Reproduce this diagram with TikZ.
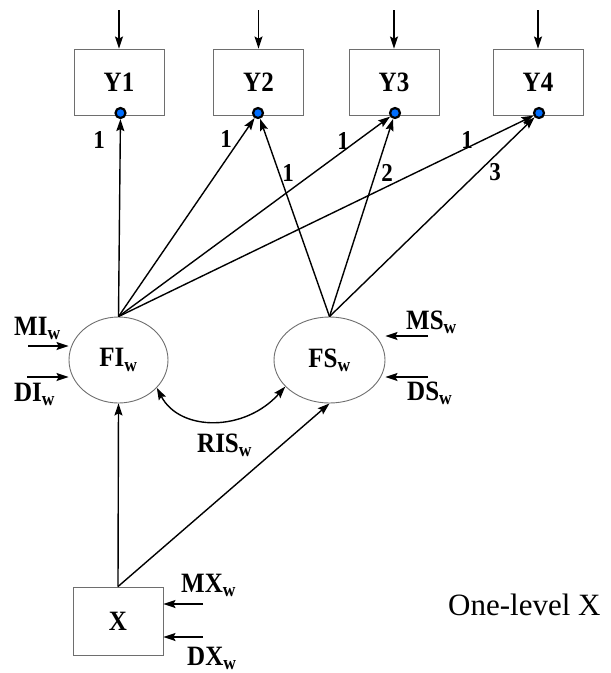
\documentclass[tikz,border=0pt]{standalone}
\usepackage{fontspec}
\usepackage{graphicx}
\setmainfont{Liberation Serif}
\usetikzlibrary{arrows.meta,shapes.geometric}
\definecolor{dotblue}{RGB}{0,110,255}
\definecolor{edgegray}{RGB}{110,110,110}
\newcommand\lblfont{\fontsize{25}{25}\selectfont\bfseries}
\newcommand\numfont{\fontsize{23}{23}\selectfont\bfseries}
\newcommand\tallt[1]{\scalebox{1}[1.12]{#1}}
\begin{document}
\begin{tikzpicture}[x=1pt,y=-1pt,
  arr/.style={line width=1.4pt,-{Stealth[length=12pt,width=8pt,inset=2pt]}},
  dblarr/.style={line width=1.4pt,{Stealth[length=12pt,width=8pt,inset=2pt]}-{Stealth[length=12pt,width=8pt,inset=2pt]}},
  obs/.style={draw=edgegray,line width=0.9pt,minimum width=90pt,minimum height=66pt,inner sep=0pt,font=\lblfont},
  lat/.style={ellipse,draw=edgegray,line width=0.9pt,minimum height=86pt,inner sep=0pt,font=\lblfont},
  knob/.style={circle,fill=dotblue,draw=black,line width=2.2pt,minimum size=10pt,inner sep=0pt},
  lbl/.style={font=\lblfont,inner sep=0pt,anchor=base west},
  num/.style={font=\numfont,inner sep=0pt,anchor=base}]
\useasboundingbox (0,0) rectangle (611,673);

% observed boxes
\node[obs] (Y1) at (119,82) {\tallt{Y1}};
\node[obs] (Y2) at (258.5,82) {\tallt{Y2}};
\node[obs] (Y3) at (394,82) {\tallt{Y3}};
\node[obs] (Y4) at (538,82) {\tallt{Y4}};

% top residual arrows
\coordinate (t1) at (119,10);
\coordinate (t2) at (258.5,10);
\coordinate (t3) at (394,10);
\coordinate (t4) at (538,10);
\draw[arr] (t1) -- (Y1.north);
\draw[arr] (t2) -- (Y2.north);
\draw[arr] (t3) -- (Y3.north);
\draw[arr] (t4) -- (Y4.north);

% latent factors
\node[lat,minimum width=99pt] (FI) at (118.5,360) {\tallt{FI\textsubscript{w}}};
\node[lat,minimum width=111pt] (FS) at (329.5,360) {\tallt{FS\textsubscript{w}}};

% X box
\node[obs,minimum height=68pt] (X) at (118,621) {\tallt{X}};

% dots
\node[knob] (d1) at (120.5,113) {};
\node[knob] (d2) at (258,113) {};
\node[knob] (d3) at (395,113) {};
\node[knob] (d4) at (539,113) {};

% loadings
\draw[arr] (FI.north) -- (d1);
\draw[arr] (FI.north) -- (d2);
\draw[arr] (FI.north) -- (d3);
\draw[arr] (FI.north) -- (d4);
\draw[arr] (FS.north) -- (d2);
\draw[arr] (FS.north) -- (d3);
\draw[arr] (FS.north) -- (d4);

% loading labels
\node[num] (n1) at (99,148) {\tallt{1}};
\node[num] (n2) at (226,147) {\tallt{1}};
\node[num] (n3) at (288,181) {\tallt{1}};
\node[num] (n4) at (343,149) {\tallt{1}};
\node[num] (n5) at (387,181) {\tallt{2}};
\node[num] (n6) at (467,148) {\tallt{1}};
\node[num] (n7) at (495,180) {\tallt{3}};

% covariance
\draw[dblarr] (FI.-36) .. controls (180,432) and (245,432) .. (FS.-149);
\node[lbl] (ris) at (197,452) {\tallt{RIS\textsubscript{w}}};

% X paths
\draw[arr] (X.north) -- (FI.south);
\draw[arr] (X.north) -- (FS.south);

% side residuals FI
\coordinate (miS) at (28,346);
\coordinate (diS) at (27,377);
\draw[arr] (miS) -- (miS -| FI.west);
\draw[arr] (diS) -- (diS -| FI.west);
\node[lbl] (mi) at (14,335) {\tallt{MI\textsubscript{w}}};
\node[lbl] (di) at (14,401) {\tallt{DI\textsubscript{w}}};

% side residuals FS
\coordinate (msS) at (428,336);
\coordinate (dsS) at (428,377);
\draw[arr] (msS) -- (msS -| FS.east);
\draw[arr] (dsS) -- (dsS -| FS.east);
\node[lbl] (ms) at (406,329) {\tallt{MS\textsubscript{w}}};
\node[lbl] (ds) at (407,400) {\tallt{DS\textsubscript{w}}};

% side residuals X
\coordinate (mxS) at (203,604);
\coordinate (dxS) at (203,637);
\draw[arr] (mxS) -- (mxS -| X.east);
\draw[arr] (dxS) -- (dxS -| X.east);
\node[lbl] (mx) at (181,592) {\tallt{MX\textsubscript{w}}};
\node[lbl] (dx) at (187,665) {\tallt{DX\textsubscript{w}}};

% caption
\node[font=\fontsize{31}{31}\selectfont,inner sep=0pt,anchor=base west] (cap) at (448,615) {One-level X};
\end{tikzpicture}
\end{document}
